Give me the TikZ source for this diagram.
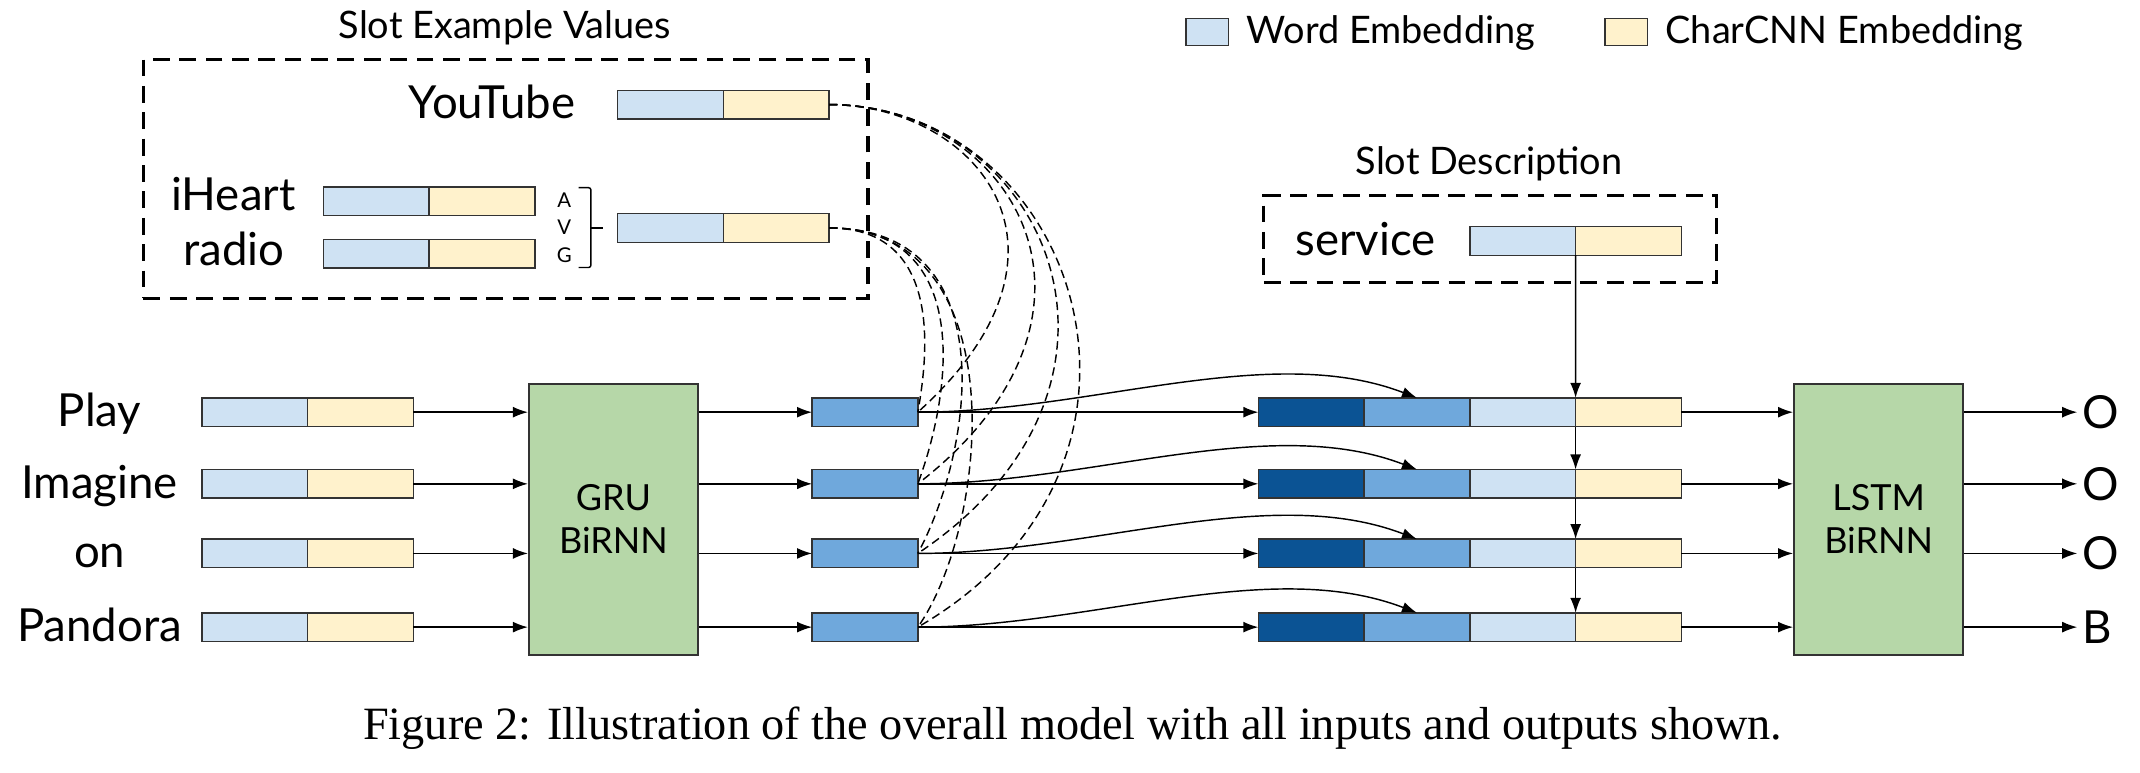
\documentclass[tikz,border=0pt]{standalone}
\usepackage{fontspec}
\setmainfont{Lato}
\newfontfamily\capfont{Liberation Serif}
\usepackage{xcolor}
\usepackage{tikz}
\usetikzlibrary{positioning}
\usetikzlibrary{arrows.meta}
\tikzset{>={Latex[width=1.6mm,length=2.2mm]}}

\definecolor{wordblue}{HTML}{CFE2F3}
\definecolor{charyellow}{HTML}{FFF2CC}
\definecolor{hidblue}{HTML}{6FA8DC}
\definecolor{darkblue}{HTML}{0B5394}
\definecolor{rnngreen}{HTML}{B6D7A8}

\begin{document}
\begin{tikzpicture}[x=0.02cm, y=-0.02cm, cell/.style={draw=black!80, line width=0.6pt, minimum width=1.55cm, minimum height=0.42cm, inner sep=0pt, outer sep=0pt}, wordcell/.style={cell, fill=wordblue}, charcell/.style={cell, fill=charyellow}, hidcell/.style={cell, fill=hidblue}, darkcell/.style={cell, fill=darkblue}, rnnnode/.style={draw=black!80, line width=0.8pt, fill=rnngreen, minimum width=2.48cm, minimum height=3.98cm, align=center, font=\fontsize{15}{18}\selectfont}, word/.style={font=\fontsize{19}{21}\selectfont, inner sep=0pt}, heading/.style={font=\fontsize{15.8}{18}\selectfont, inner sep=0pt}, dashbox/.style={draw, line width=1.3pt, dash pattern=on 7pt off 4pt, inner sep=0pt}, link/.style={->, line width=0.6pt}, lookup/.style={line width=0.6pt, dash pattern=on 3.5pt off 2pt}]

    \useasboundingbox (0,0) rectangle (1568,566);

    %Legend
    \node[wordcell, minimum width=0.62cm, minimum height=0.4cm](legword) at (884.5,23.5){};
    \node[heading, anchor=base west](legwordtext) at (913,32){Word Embedding};
    \node[charcell, minimum width=0.62cm, minimum height=0.4cm](legchar) at (1191.5,23.5){};
    \node[heading, anchor=base west](legchartext) at (1220,32){CharCNN Embedding};

    %Slot example values
    \node[dashbox, minimum width=10.62cm, minimum height=3.5cm](examplebox) at (370.5,131){};
    \node[heading, anchor=base](exampletitle) at (370,28){Slot Example Values};
    \node[word, anchor=base east](youtube) at (422,86.7){YouTube};
    \node[wordcell, anchor=west](ytw) at (452.5,76.6){};
    \node[charcell](ytc)[right=0pt of ytw]{};
    \node[word, anchor=base](iheart) at (171,154.4){iHeart};
    \node[wordcell, anchor=west](ihw) at (237,147.5){};
    \node[charcell](ihc)[right=0pt of ihw]{};
    \node[word, anchor=base](radio) at (171.5,194.2){radio};
    \node[wordcell, anchor=west](rdw) at (237,186){};
    \node[charcell](rdc)[right=0pt of rdw]{};
    \node[font=\fontsize{8.5}{9}\selectfont, inner sep=0pt](avga) at (413.4,146.5){A};
    \node[font=\fontsize{8.5}{9}\selectfont, inner sep=0pt](avgv) at (413.4,166.5){V};
    \node[font=\fontsize{8.5}{9}\selectfont, inner sep=0pt](avgg) at (413.4,187){G};
    \node[wordcell, anchor=west](avgw) at (452.5,167){};
    \node[charcell](avgc)[right=0pt of avgw]{};
    \draw[line width=0.6pt, rounded corners=1pt] (424,137.5) -- (433,137.5) -- (433,196) -- (424,196);
    \draw[line width=0.6pt] (433,167) -- (442,167);

    %Slot description
    \node[dashbox, minimum width=6.64cm, minimum height=1.27cm](descbox) at (1092,175.3){};
    \node[heading, anchor=base](desctitle) at (1091,128){Slot Description};
    \node[word, anchor=base](service) at (1000.5,187){service};
    \node[wordcell, anchor=west](svw) at (1077,176.5){};
    \node[charcell](svc)[right=0pt of svw]{};

    %Networks
    \node[rnnnode](gru) at (449.5,380.5){GRU\\BiRNN};
    \node[rnnnode](lstm) at (1376.5,380.5){LSTM\\BiRNN};

    %Rows
    \foreach \y/\w/\o [count=\i] in {302/Play/O, 354.5/Imagine/O, 405.5/on/O, 459.5/Pandora/B} {
        \node[word, anchor=base](word\i) at (73,\y+10.5){\w};
        \node[wordcell, anchor=west](inw\i) at (148,\y){};
        \node[charcell](inc\i)[right=0pt of inw\i]{};
        \node[hidcell, anchor=west](h\i) at (595,\y){};
        \node[darkcell, anchor=west](cd\i) at (922,\y){};
        \node[hidcell](ch\i)[right=0pt of cd\i]{};
        \node[wordcell](cw\i)[right=0pt of ch\i]{};
        \node[charcell](cc\i)[right=0pt of cw\i]{};
        \node[word, anchor=west, inner sep=2pt](out\i) at (1522,\y){\o};
    }

    %Lines
    \foreach \i in {1,...,4} {
        \draw[link] (inc\i.east) -- (gru.west |- inc\i.east);
        \draw[link] (gru.east |- h\i.west) -- (h\i.west);
        \draw[link] (h\i.east) -- (cd\i.west);
        \draw[link] (h\i.east) .. controls +(127,0) and +(-108,-41.5) .. (ch\i.north);
        \draw[link] (cc\i.east) -- (lstm.west |- cc\i.east);
        \draw[link] (lstm.east |- out\i.west) -- (out\i.west);
    }
    \draw[link] (svw.south east) -- (cw1.north east);
    \draw[link] (cw1.south east) -- (cw2.north east);
    \draw[link] (cw2.south east) -- (cw3.north east);
    \draw[link] (cw3.south east) -- (cw4.north east);

    %Lookups
    \foreach \i/\ax/\bx/\by in {1/715/805/183, 2/743/833/230, 3/767/857/282, 4/789/879/340}
        \draw[lookup] (ytc.east) .. controls (\ax,77) and (\bx,\by) .. (h\i.east);
    \foreach \i/\ax/\bx/\by in {1/691/680/260, 2/710/700/280, 3/735/715/326, 4/745/725/385}
        \draw[lookup] (avgc.east) .. controls (\ax,167) and (\bx,\by) .. (h\i.east);

    %Caption
    \node[font=\capfont\fontsize{19.3}{22}\selectfont, anchor=base, inner sep=0pt](caption) at (786,542){Figure 2: Illustration of the overall model with all inputs and outputs shown.};

\end{tikzpicture}
\end{document}
